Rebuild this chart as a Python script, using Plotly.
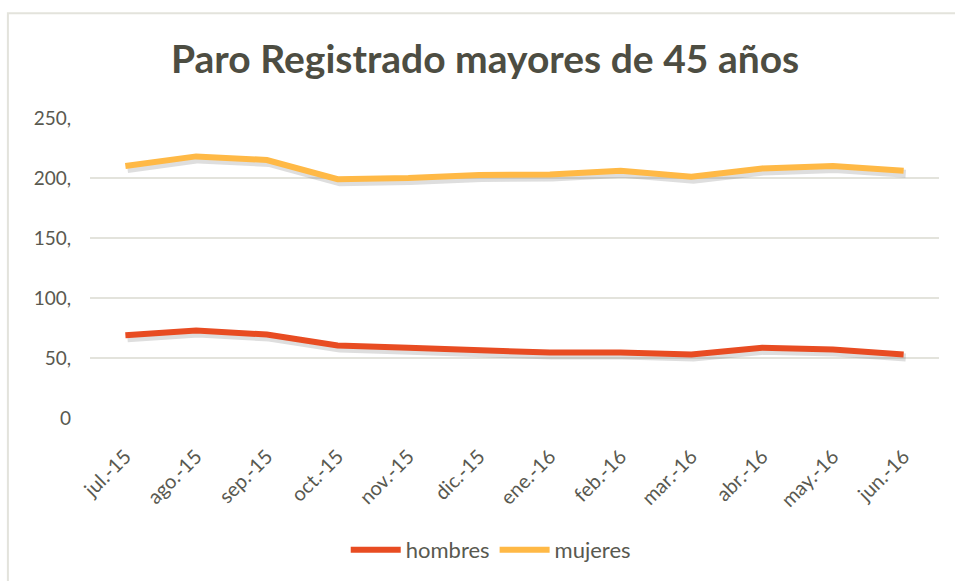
import plotly.graph_objects as go

months = ["jul.-15", "ago.-15", "sep.-15", "oct.-15", "nov.-15", "dic.-15",
          "ene.-16", "feb.-16", "mar.-16", "abr.-16", "may.-16", "jun.-16"]
hombres = [69, 73, 69.5, 60.5, 58.5, 56, 54.5, 54.5, 53, 58.5, 57, 53]
mujeres = [210, 218, 215, 199, 200, 202.5, 203, 206, 201, 208, 210, 206]
ytick_vals = [0, 50, 100, 150, 200, 250]
ytick_text = ["0", "50,", "100,", "150,", "200,", "250,"]

FONT = "Lato"
TXT = "#595950"

fig = go.Figure()
# soft shadows (same data on slightly offset overlay axes, drawn below the lines)
for vals in (hombres, mujeres):
    fig.add_trace(go.Scatter(x=months, y=vals, mode="lines", showlegend=False,
                             hoverinfo="skip", xaxis="x2", yaxis="y2",
                             line=dict(color="rgba(90,90,90,0.20)", width=8)))
fig.add_trace(go.Scatter(x=months, y=hombres, name="hombres", mode="lines",
                         xaxis="x3", yaxis="y3",
                         line=dict(color="#E84C22", width=6)))
fig.add_trace(go.Scatter(x=months, y=mujeres, name="mujeres", mode="lines",
                         xaxis="x3", yaxis="y3",
                         line=dict(color="#FFB946", width=6)))
# invisible trace to anchor the main (visible) axes
fig.add_trace(go.Scatter(x=months, y=[None] * len(months), mode="lines",
                         showlegend=False, hoverinfo="skip"))

fig.update_layout(
    width=955, height=581,
    margin=dict(l=90, r=16, t=118, b=162),
    paper_bgcolor="white", plot_bgcolor="white",
    font=dict(family=FONT, color=TXT, size=18),
    title=dict(text="<b>Paro Registrado mayores de 45 años</b>",
               x=0.508, xanchor="center", y=0.897, yanchor="middle",
               font=dict(family=FONT, size=39, color="#4D4D42")),
    showlegend=True,
    legend=dict(orientation="h", x=0.472, xanchor="center", y=-0.435, yanchor="middle",
                font=dict(size=22, color=TXT), itemwidth=50),
    shapes=[dict(type="rect", xref="paper", yref="paper",
                 x0=-0.0967, x1=1.05, y0=-0.6, y1=1.349,
                 line=dict(color="#E3E3DC", width=2), layer="below")],
    xaxis=dict(type="category", range=[-0.5, 11.5], showgrid=False,
               showline=False, ticks="", tickangle=-45, ticklabelstandoff=22,
               tickfont=dict(size=20, color=TXT)),
    yaxis=dict(range=[0, 250], tickvals=ytick_vals, ticktext=ytick_text,
               showgrid=True, gridcolor="#E3E3DC", gridwidth=2,
               zeroline=False, showline=False, ticks="",
               ticklabelstandoff=18, tickfont=dict(size=19, color=TXT)),
    xaxis2=dict(type="category", overlaying="x", range=[-0.53, 11.47], visible=False),
    yaxis2=dict(overlaying="y", range=[2.5, 252.5], visible=False),
    xaxis3=dict(type="category", overlaying="x", range=[-0.5, 11.5], visible=False),
    yaxis3=dict(overlaying="y", range=[0, 250], visible=False),
)

fig.write_html("out.html", config={"displayModeBar": False},
               post_script="document.body.style.margin='0';document.body.style.padding='0';")
